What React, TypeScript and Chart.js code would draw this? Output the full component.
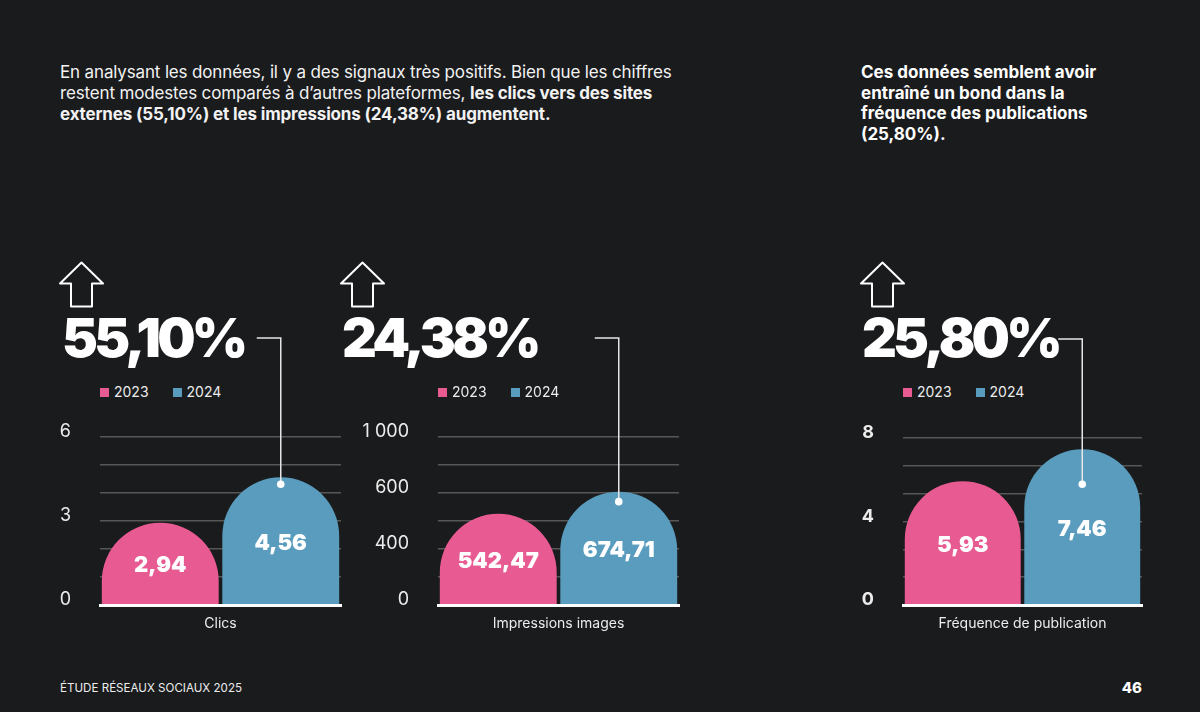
import React, { useEffect, useRef } from "react";
import { Chart, registerables } from "chart.js";

Chart.register(...registerables);

// ---------- data ----------
const YEARS = ["2023", "2024"];
const SERIES_COLORS = ["#e85a92", "#5a9cbd"];
const CATEGORIES = ["Clics", "Impressions images", "Fréquence de publication"];
const VALUES_2023 = [2.94, 542.47, 5.93];
const VALUES_2024 = [4.56, 674.71, 7.46];
const GROWTH_LABELS = ["55,10%", "24,38%", "25,80%"];
const Y_MAX = [6, 1000, 8];
const Y_TICKS_CLICS = ["0", "", "", "3", "", "", "6"];
const Y_TICKS_IMPRESSIONS = ["0", "", "400", "", "600", "", "1 000"];
const Y_TICKS_FREQUENCE = ["0", "", "", "4", "", "", "8"];
const Y_TICK_SETS = [Y_TICKS_CLICS, Y_TICKS_IMPRESSIONS, Y_TICKS_FREQUENCE];

// ---------- layout ----------
const BG = "#1a1b1d";
const FONT = "Inter, 'Noto Sans', sans-serif";
const CANVAS_TOP = 300;
const BASELINE = 605;
const X_AXIS_H = 40;
const Y_AXIS_W = 80;
const PANELS = [
  { canvasLeft: 10, areaLeft: 100, areaRight: 341, areaTop: 437, dotOffset: 7, boldTicks: false, headLeft: 62, arrowLeft: 59 },
  { canvasLeft: 340, areaLeft: 438, areaRight: 679, areaTop: 437, dotOffset: 10, boldTicks: false, headLeft: 342, arrowLeft: 340 },
  { canvasLeft: 810, areaLeft: 903, areaRight: 1142, areaTop: 438, dotOffset: 35, boldTicks: true, headLeft: 862, arrowLeft: 860 },
];

const fmt = (v: number) => v.toFixed(2).replace(".", ",");

const domeBars = {
  id: "domeBars",
  beforeDatasetDraw() {
    return false;
  },
  afterDatasetsDraw(chart: any, _args: any, opts: any) {
    const ctx = chart.ctx as CanvasRenderingContext2D;
    chart.data.datasets.forEach((ds: any, di: number) => {
      const meta = chart.getDatasetMeta(di);
      meta.data.forEach((el: any, i: number) => {
        const { x, y, base, width } = el.getProps(["x", "y", "base", "width"], true);
        const r = width / 2;
        ctx.save();
        ctx.fillStyle = el.options.backgroundColor;
        ctx.beginPath();
        ctx.moveTo(x - r, base);
        ctx.lineTo(x - r, y + r);
        ctx.arc(x, y + r, r, Math.PI, 0);
        ctx.lineTo(x + r, base);
        ctx.closePath();
        ctx.fill();
        ctx.fillStyle = "#ffffff";
        ctx.font = `900 22px ${FONT}`;
        ctx.textAlign = "center";
        ctx.textBaseline = "alphabetic";
        ctx.fillText(fmt(ds.data[i] as number), x, (y + base) / 2 + 9);
        ctx.restore();
      });
    });
    // leader line from the 2024 bar up to the headline figure
    const last = chart.getDatasetMeta(chart.data.datasets.length - 1).data[0] as any;
    if (last) {
      const { x, y } = last.getProps(["x", "y"], true);
      const dotY = y + opts.dotOffset;
      const topY = chart.chartArea.top - 99;
      ctx.save();
      ctx.strokeStyle = "#e6e6e6";
      ctx.lineWidth = 1.5;
      ctx.beginPath();
      ctx.moveTo(x, dotY);
      ctx.lineTo(x, topY);
      ctx.lineTo(x - 24, topY);
      ctx.stroke();
      ctx.fillStyle = "#ffffff";
      ctx.beginPath();
      ctx.arc(x, dotY, 3.8, 0, Math.PI * 2);
      ctx.fill();
      ctx.restore();
    }
  },
};

function Panel({ idx }: { idx: number }) {
  const ref = useRef<HTMLCanvasElement>(null);
  const p = PANELS[idx];
  const width = p.areaRight - p.canvasLeft + 10;
  const height = BASELINE - CANVAS_TOP + X_AXIS_H;
  useEffect(() => {
    if (!ref.current) return;
    const ticks = Y_TICK_SETS[idx];
    const chart = new Chart(ref.current, {
      type: "bar",
      data: {
        labels: [CATEGORIES[idx]],
        datasets: [
          { label: YEARS[0], data: [VALUES_2023[idx]], backgroundColor: SERIES_COLORS[0] },
          { label: YEARS[1], data: [VALUES_2024[idx]], backgroundColor: SERIES_COLORS[1] },
        ],
      },
      options: {
        responsive: false,
        animation: false,
        events: [],
        layout: {
          padding: {
            left: p.areaLeft - p.canvasLeft - Y_AXIS_W,
            right: 10,
            top: p.areaTop - CANVAS_TOP,
            bottom: 0,
          },
        },
        datasets: { bar: { categoryPercentage: 1, barPercentage: 0.97 } },
        plugins: {
          legend: { display: false },
          tooltip: { enabled: false },
          domeBars: { dotOffset: p.dotOffset },
        } as any,
        scales: {
          x: {
            afterFit: (a: any) => {
              a.height = X_AXIS_H;
            },
            grid: { display: false },
            border: { display: true, color: "#ffffff", width: 3, z: 1 },
            ticks: { color: "#ececec", font: { family: FONT, size: 14 }, padding: 2 },
          },
          y: {
            min: 0,
            max: Y_MAX[idx],
            afterFit: (a: any) => {
              a.width = Y_AXIS_W;
            },
            border: { display: false },
            grid: {
              drawTicks: false,
              lineWidth: 1.5,
              color: (c: any) => (c.index === 0 ? "rgba(0,0,0,0)" : "#575757"),
            },
            ticks: {
              count: ticks.length,
              padding: 29,
              labelOffset: -5,
              color: "#ececec",
              font: { family: FONT, size: 18, weight: p.boldTicks ? "bold" : "normal" },
              callback: (_v: any, i: number) => ticks[i] ?? "",
            },
          },
        },
      } as any,
      plugins: [domeBars as any],
    });
    return () => chart.destroy();
  }, [idx]);
  return (
    <>
      <svg width={46} height={48} style={{ position: "absolute", left: p.arrowLeft, top: 261 }}>
        <path
          d="M22.5 1.5 L44 22.5 L33 22.5 L33 45.5 L12 45.5 L12 22.5 L1 22.5 Z"
          fill="none"
          stroke="#ffffff"
          strokeWidth={2}
          strokeLinejoin="round"
        />
      </svg>
      <div
        style={{
          position: "absolute",
          left: p.headLeft,
          top: 311,
          fontSize: 54,
          lineHeight: 1,
          fontWeight: 900,
          letterSpacing: -3.8,
          color: "#ffffff",
          whiteSpace: "nowrap",
        }}
      >
        {GROWTH_LABELS[idx]}
      </div>
      <div
        style={{
          position: "absolute",
          left: p.areaLeft,
          top: 383,
          display: "flex",
          alignItems: "center",
          fontSize: 14,
          color: "#ececec",
          lineHeight: "18px",
        }}
      >
        {YEARS.map((y, i) => (
          <div key={y} style={{ display: "flex", alignItems: "center", marginRight: 24 }}>
            <span style={{ width: 9, height: 9, background: SERIES_COLORS[i], marginRight: 5, display: "inline-block" }} />
            <span>{y}</span>
          </div>
        ))}
      </div>
      <canvas
        ref={ref}
        width={width}
        height={height}
        style={{ position: "absolute", left: p.canvasLeft, top: CANVAS_TOP, width, height }}
      />
    </>
  );
}

export default function App() {
  return (
    <div
      style={{
        position: "fixed",
        left: 0,
        top: 0,
        width: 1200,
        height: 712,
        background: BG,
        fontFamily: FONT,
        color: "#f2f2f2",
        overflow: "hidden",
      }}
    >
      <div
        style={{
          position: "absolute",
          left: 60,
          top: 62,
          fontSize: 17,
          lineHeight: "21px",
          letterSpacing: -0.15,
          whiteSpace: "nowrap",
        }}
      >
        <div>En analysant les données, il y a des signaux très positifs. Bien que les chiffres</div>
        <div>
          restent modestes comparés à d’autres plateformes, <b>les clics vers des sites</b>
        </div>
        <div>
          <b>externes (55,10%) et les impressions (24,38%) augmentent.</b>
        </div>
      </div>
      <div
        style={{
          position: "absolute",
          left: 861,
          top: 62,
          fontSize: 17,
          fontWeight: 700,
          lineHeight: "20.7px",
          whiteSpace: "nowrap",
          color: "#ffffff",
        }}
      >
        <div>Ces données semblent avoir</div>
        <div>entraîné un bond dans la</div>
        <div>fréquence des publications</div>
        <div>(25,80%).</div>
      </div>
      {PANELS.map((_, i) => (
        <Panel key={i} idx={i} />
      ))}
      <div style={{ position: "absolute", left: 60, top: 680, fontSize: 11.6, lineHeight: "16px", color: "#ececec" }}>
        ÉTUDE RÉSEAUX SOCIAUX 2025
      </div>
      <div
        style={{
          position: "absolute",
          right: 58,
          top: 679,
          fontSize: 15,
          fontWeight: 800,
          lineHeight: "18px",
          color: "#ffffff",
        }}
      >
        46
      </div>
    </div>
  );
}
